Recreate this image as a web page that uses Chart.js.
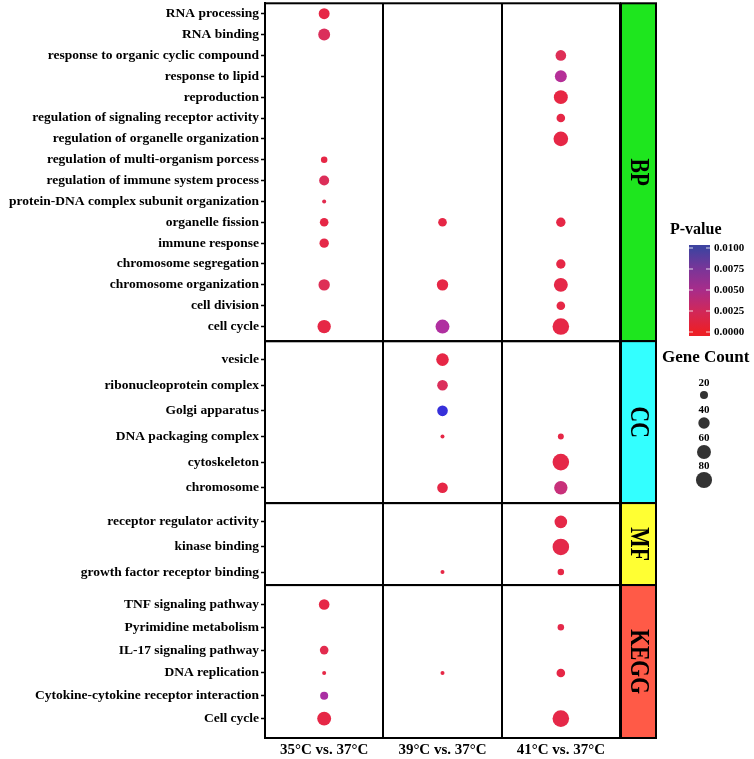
<!DOCTYPE html>
<html>
<head>
<meta charset="utf-8">
<script src="https://cdn.jsdelivr.net/npm/chart.js@4.4.1/dist/chart.umd.min.js"></script>
<style>
html,body{margin:0;padding:0;background:#fff;overflow:hidden;}
#wrap{width:754px;height:759px;position:relative;overflow:hidden;}
#c{position:absolute;left:0;top:-5px;}
</style>
</head>
<body>
<div id="wrap"><canvas id="c" width="754" height="764"></canvas></div>
<script>
// ---------- data ----------
const columns = ['35°C vs. 37°C', '39°C vs. 37°C', '41°C vs. 37°C'];

const bpTerms = ['RNA processing','RNA binding','response to organic cyclic compound','response to lipid','reproduction','regulation of signaling receptor activity','regulation of organelle organization','regulation of multi-organism porcess','regulation of immune system process','protein-DNA complex subunit organization','organelle fission','immune response','chromosome segregation','chromosome organization','cell division','cell cycle'];
const bpCount = [[37,null,null],[44,null,null],[null,null,35],[null,null,44],[null,null,60],[null,null,23],[null,null,66],[13,null,null],[31,null,null],[5,null,null],[23,23,27],[27,null,null],[null,null,27],[40,40,60],[null,null,23],[55,60,85]];
const bpP = [[0.0004,null,null],[0.0015,null,null],[null,null,0.0012],[null,null,0.0055],[null,null,0.0003],[null,null,0.0004],[null,null,0.0004],[0.0004,null,null],[0.0014,null,null],[0.0008,null,null],[0.0004,0.0004,0.0004],[0.0005,null,null],[null,null,0.0004],[0.0012,0.0004,0.0005],[null,null,0.0004],[0.0004,0.006,0.0004]];

const ccTerms = ['vesicle','ribonucleoprotein complex','Golgi apparatus','DNA packaging complex','cytoskeleton','chromosome'];
const ccCount = [[null,49,null],[null,35,null],[null,35,null],[null,5,11],[null,null,85],[null,35,55]];
const ccP = [[null,0.0004,null],[null,0.0015,null],[null,0.0098,null],[null,0.0004,0.0004],[null,null,0.0005],[null,0.0004,0.0035]];

const mfTerms = ['receptor regulator activity','kinase binding','growth factor receptor binding'];
const mfCount = [[null,null,49],[null,null,85],[null,5,13]];
const mfP = [[null,null,0.0005],[null,null,0.0006],[null,0.0004,0.0004]];

const keggTerms = ['TNF signaling pathway','Pyrimidine metabolism','IL-17 signaling pathway','DNA replication','Cytokine-cytokine receptor interaction','Cell cycle'];
const keggCount = [[35,null,null],[null,null,13],[23,null,null],[5,5,23],[20,null,null],[60,null,85]];
const keggP = [[0.0004,null,null],[null,null,0.0006],[0.0008,null,null],[0.0004,0.0004,0.0004],[0.0062,null,null],[0.0004,null,0.0005]];

const pTicks = [0, 0.0025, 0.005, 0.0075, 0.01];
const pTickLabels = ['0.0000','0.0025','0.0050','0.0075','0.0100'];
const sizeTicks = [20, 40, 60, 80];

// ---------- mappings ----------
const FONT = '"Liberation Serif", "DejaVu Serif", serif';
const SHIFT = 5; // canvas is drawn 5px higher on the page
function sizeOf(c){ return 0.9*Math.sqrt(c); }
const cStops = [[0,[234,36,62]],[0.12,[222,46,86]],[0.35,[200,48,122]],[0.6,[176,47,160]],[1,[48,48,221]]];
function colorOf(p){
  const t = Math.max(0, Math.min(1, p/0.01));
  for (let i=1;i<cStops.length;i++){
    if (t <= cStops[i][0]){
      const a=cStops[i-1], b=cStops[i];
      const f=(t-a[0])/(b[0]-a[0]);
      const rgb=a[1].map((v,k)=>Math.round(v+(b[1][k]-v)*f));
      return 'rgb('+rgb.join(',')+')';
    }
  }
  return 'rgb(48,48,221)';
}

const panels = [
  {id:'yBP', name:'BP', terms:bpTerms, counts:bpCount, ps:bpP, fill:'#1EE61E', weight:338, min:-0.5, max:15.7},
  {id:'yCC', name:'CC', terms:ccTerms, counts:ccCount, ps:ccP, fill:'#33FFFF', weight:162, min:-0.72, max:5.6},
  {id:'yMF', name:'MF', terms:mfTerms, counts:mfCount, ps:mfP, fill:'#FFFF33', weight:82, min:-0.75, max:2.52},
  {id:'yKEGG', name:'KEGG', terms:keggTerms, counts:keggCount, ps:keggP, fill:'#FF5A47', weight:153, min:-0.85, max:5.85}
];

const datasets = [];
panels.forEach(pn => {
  columns.forEach((col, ci) => {
    const pts = [];
    pn.terms.forEach((t, ri) => {
      const c = pn.counts[ri][ci];
      if (c != null) pts.push({x: col, y: ri, r: sizeOf(c), p: pn.ps[ri][ci]});
    });
    datasets.push({
      label: pn.name + ' ' + col,
      yAxisID: pn.id,
      data: pts,
      borderWidth: 0,
      backgroundColor: ctx => colorOf(ctx.raw ? ctx.raw.p : 0),
      hoverRadius: 0
    });
  });
});

const scales = {
  x: {
    type: 'category', labels: columns, offset: true, position: 'bottom',
    grid: {offset: true, color: '#000', lineWidth: 2, drawTicks: false},
    border: {color: '#000', width: 2},
    ticks: {color: '#000', font: {family: FONT, size: 15, weight: 'bold'}, padding: 3, maxRotation: 0},
    afterFit: s => { s.height = 21; s.paddingLeft = 0; s.paddingRight = 0; }
  }
};
// stacked scales are placed bottom-up, so define them in reverse order
panels.slice().reverse().forEach(pn => {
  scales[pn.id] = {
    type: 'linear', position: 'left', stack: 'panels', stackWeight: pn.weight,
    reverse: true, min: pn.min, max: pn.max,
    afterBuildTicks: s => { s.ticks = pn.terms.map((_, i) => ({value: i})); },
    ticks: {
      autoSkip: false, color: '#000', padding: 2,
      font: {family: FONT, size: 13.5, weight: 'bold'},
      callback: v => pn.terms[v]
    },
    grid: {drawOnChartArea: false, tickLength: 4, tickColor: '#000', tickWidth: 1.5},
    border: {color: '#000', width: 2},
    afterFit: s => { s.width = 265; s.paddingTop = 0; s.paddingBottom = 0; }
  };
});

const framePlugin = {
  id: 'frames',
  afterDraw(chart){
    const ctx = chart.ctx, ca = chart.chartArea;
    ctx.save();
    panels.forEach(pn => {
      const s = chart.scales[pn.id];
      ctx.lineWidth = 2; ctx.strokeStyle = '#000';
      ctx.strokeRect(ca.left, s.top, ca.right - ca.left, s.bottom - s.top);
      const sx = ca.right + 1, sw = 35;
      ctx.fillStyle = pn.fill;
      ctx.fillRect(sx, s.top, sw, s.bottom - s.top);
      ctx.strokeRect(sx, s.top, sw, s.bottom - s.top);
      ctx.save();
      ctx.translate(sx + sw/2, (s.top + s.bottom)/2);
      ctx.rotate(Math.PI/2);
      ctx.scale(0.8, 1);
      ctx.fillStyle = '#000';
      ctx.font = 'bold 27px ' + FONT;
      ctx.textAlign = 'center'; ctx.textBaseline = 'middle';
      ctx.fillText(pn.name, 0, 1);
      ctx.restore();
    });
    // legends (page coordinates + SHIFT)
    ctx.translate(0, SHIFT);
    ctx.fillStyle = '#000';
    ctx.font = 'bold 16px ' + FONT;
    ctx.textAlign = 'left'; ctx.textBaseline = 'alphabetic';
    ctx.fillText('P-value', 670, 234);
    const bx = 689, bw = 21, yTop = 248, yBot = 332;
    const g = ctx.createLinearGradient(0, yBot, 0, yTop);
    g.addColorStop(0, '#EC1F27'); g.addColorStop(0.25, '#D0285A'); g.addColorStop(0.5, '#A82C8A');
    g.addColorStop(0.75, '#7A3598'); g.addColorStop(1, '#3E43A0');
    ctx.fillStyle = g;
    ctx.fillRect(bx, yTop - 3, bw, (yBot - yTop) + 7);
    ctx.font = 'bold 11px ' + FONT;
    ctx.textBaseline = 'middle';
    pTicks.forEach((v, i) => {
      const y = yBot - (v/0.01)*(yBot - yTop);
      ctx.strokeStyle = 'rgba(255,255,255,0.8)'; ctx.lineWidth = 1;
      ctx.beginPath(); ctx.moveTo(bx, y); ctx.lineTo(bx+4, y); ctx.moveTo(bx+bw-4, y); ctx.lineTo(bx+bw, y); ctx.stroke();
      ctx.fillStyle = '#000';
      ctx.fillText(pTickLabels[i], bx + bw + 4, y);
    });
    ctx.font = 'bold 17px ' + FONT;
    ctx.textBaseline = 'alphabetic';
    ctx.fillText('Gene Count', 662, 362);
    const cx = 704;
    const labelY = [383, 410, 438, 466];
    const dotY = [395, 423, 452, 480];
    sizeTicks.forEach((v, i) => {
      ctx.fillStyle = '#000';
      ctx.font = 'bold 11px ' + FONT;
      ctx.textAlign = 'center'; ctx.textBaseline = 'middle';
      ctx.fillText(String(v), cx, labelY[i]);
      ctx.fillStyle = '#333';
      ctx.beginPath(); ctx.arc(cx, dotY[i], sizeOf(v), 0, Math.PI*2); ctx.fill();
    });
    ctx.restore();
  }
};

new Chart(document.getElementById('c'), {
  type: 'bubble',
  data: {datasets},
  options: {
    responsive: false,
    animation: false,
    devicePixelRatio: 1,
    layout: {padding: {top: 0, right: 134, left: 0, bottom: 0}},
    plugins: {legend: {display: false}, tooltip: {enabled: false}},
    scales
  },
  plugins: [framePlugin]
});
</script>
</body>
</html>
